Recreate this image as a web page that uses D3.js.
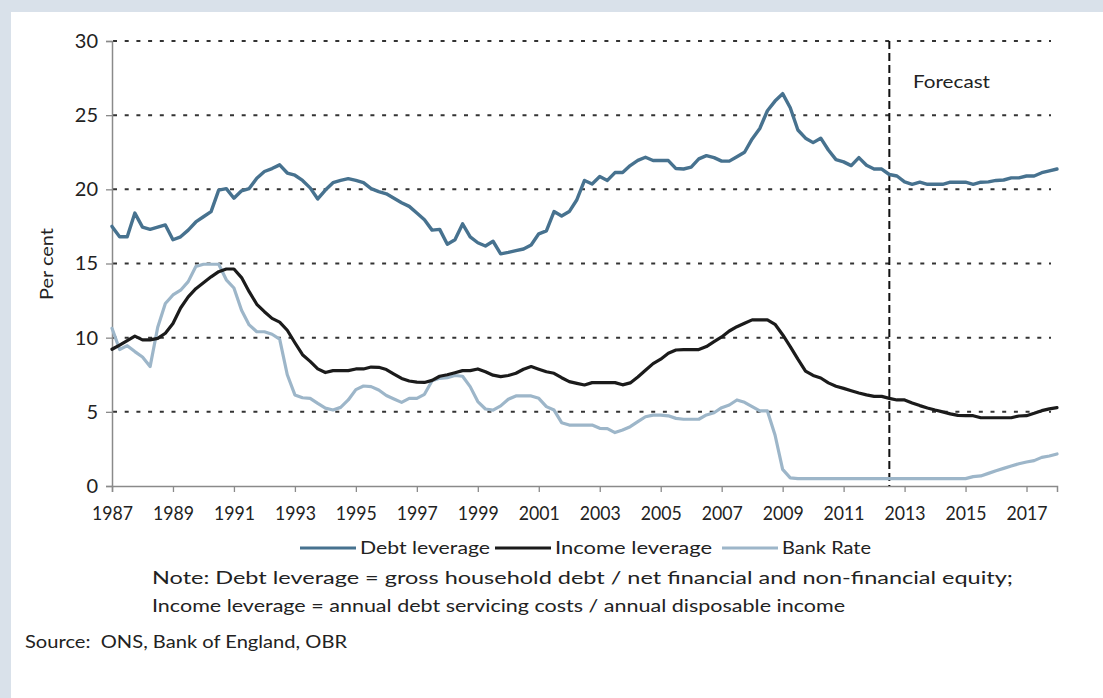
<!DOCTYPE html>
<html>
<head>
<meta charset="utf-8">
<script src="https://cdn.jsdelivr.net/npm/d3@7"></script>
<style>
  html, body { margin: 0; padding: 0; background: #d9e1ea; }
  svg { display: block; font-family: Lato, "Noto Sans", sans-serif; }
  text { white-space: pre; }
</style>
</head>
<body>
<script>
// quarterly data, 1987Q1 .. 2018Q1
var startYear = 1987;

var debtLeverage = [
  17.5, 16.8, 16.8, 18.4,      // 1987
  17.45, 17.3, 17.45, 17.6,    // 1988
  16.6, 16.8, 17.25, 17.8,     // 1989
  18.15, 18.5, 19.95, 20.05,   // 1990
  19.4, 19.9, 20.05, 20.75,    // 1991
  21.2, 21.4, 21.65, 21.1,     // 1992
  20.95, 20.6, 20.1, 19.35,    // 1993
  19.95, 20.45, 20.6, 20.72,   // 1994
  20.6, 20.45, 20.05, 19.85,   // 1995
  19.7, 19.4, 19.1, 18.85,     // 1996
  18.4, 17.95, 17.25, 17.3,    // 1997
  16.3, 16.6, 17.67, 16.8,     // 1998
  16.4, 16.18, 16.5, 15.65,    // 1999
  15.75, 15.87, 15.98, 16.25,  // 2000
  17.0, 17.2, 18.5, 18.2,      // 2001
  18.5, 19.3, 20.6, 20.36,     // 2002
  20.86, 20.6, 21.13, 21.13,   // 2003
  21.6, 21.95, 22.16, 21.94,   // 2004
  21.94, 21.94, 21.4, 21.37,   // 2005
  21.5, 22.05, 22.27, 22.14,   // 2006
  21.9, 21.9, 22.2, 22.5,      // 2007
  23.4, 24.1, 25.3, 25.95,     // 2008
  26.45, 25.5, 24.0, 23.45,    // 2009
  23.15, 23.45, 22.65, 22.0,   // 2010
  21.85, 21.6, 22.14, 21.62,   // 2011
  21.37, 21.37, 21.0, 20.9,    // 2012
  20.5, 20.34, 20.48, 20.34,   // 2013
  20.34, 20.34, 20.48, 20.48,  // 2014
  20.48, 20.34, 20.48, 20.5,   // 2015
  20.6, 20.63, 20.77, 20.77,   // 2016
  20.9, 20.9, 21.12, 21.25,    // 2017
  21.37                        // 2018
];

var incomeLeverage = [
  9.22, 9.5, 9.8, 10.1,
  9.85, 9.85, 9.95, 10.3,
  10.95, 12.0, 12.75, 13.3,
  13.7, 14.1, 14.45, 14.63,
  14.63, 14.05, 13.1, 12.25,
  11.75, 11.3, 11.05, 10.5,
  9.66, 8.85, 8.4, 7.9,
  7.65, 7.78, 7.78, 7.78,
  7.89, 7.89, 8.02, 8.0,
  7.85, 7.55, 7.25, 7.08,
  7.0, 6.98, 7.12, 7.4,
  7.5, 7.64, 7.78, 7.78,
  7.89, 7.7, 7.47, 7.37,
  7.45, 7.6, 7.87, 8.05,
  7.87, 7.7, 7.6, 7.3,
  7.04, 6.92, 6.81, 6.97,
  6.97, 6.97, 6.97, 6.82,
  6.95, 7.35, 7.8, 8.25,
  8.55, 8.95, 9.17, 9.2,
  9.2, 9.2, 9.4, 9.73,
  10.05, 10.45, 10.74, 10.97,
  11.2, 11.2, 11.2, 10.9,
  10.2, 9.4, 8.55, 7.75,
  7.45, 7.28, 6.95, 6.72,
  6.58, 6.42, 6.27, 6.14,
  6.04, 6.04, 5.91, 5.8,
  5.8, 5.6, 5.42, 5.26,
  5.12, 5.0, 4.86, 4.76,
  4.74, 4.74, 4.6, 4.6,
  4.6, 4.6, 4.6, 4.72,
  4.74, 4.9, 5.08, 5.2,
  5.28
];

var bankRate = [
  10.63, 9.2, 9.46, 9.06,
  8.7, 8.05, 10.7, 12.3,
  12.88, 13.2, 13.78, 14.8,
  14.95, 14.95, 14.95, 13.9,
  13.35, 11.85, 10.86, 10.4,
  10.4, 10.23, 9.9, 7.5,
  6.14, 5.95, 5.91, 5.57,
  5.25, 5.12, 5.3, 5.8,
  6.5, 6.74, 6.7, 6.47,
  6.1, 5.87, 5.64, 5.91,
  5.91, 6.18, 7.1, 7.26,
  7.3, 7.45, 7.4, 6.7,
  5.69, 5.19, 5.12, 5.4,
  5.85, 6.07, 6.07, 6.07,
  5.91, 5.35, 5.12, 4.27,
  4.11, 4.11, 4.11, 4.11,
  3.89, 3.87, 3.6, 3.78,
  4.0, 4.34, 4.67, 4.78,
  4.78, 4.73, 4.56, 4.5,
  4.5, 4.5, 4.79, 4.94,
  5.28, 5.46, 5.8, 5.64,
  5.35, 5.06, 5.06, 3.44,
  1.12, 0.55, 0.5, 0.5,
  0.5, 0.5, 0.5, 0.5,
  0.5, 0.5, 0.5, 0.5,
  0.5, 0.5, 0.5, 0.5,
  0.5, 0.5, 0.5, 0.5,
  0.5, 0.5, 0.5, 0.5,
  0.5, 0.63, 0.68, 0.85,
  1.03, 1.19, 1.35, 1.5,
  1.62, 1.71, 1.93, 2.02,
  2.16
];

var yTicks = [0, 5, 10, 15, 20, 25, 30];
var xTicks = [1987, 1989, 1991, 1993, 1995, 1997, 1999, 2001, 2003, 2005, 2007, 2009, 2011, 2013, 2015, 2017];
var forecastStart = 2012.5;

var seriesNames = ["Debt leverage", "Income leverage", "Bank Rate"];
var seriesColors = ["#47728f", "#1b1b1b", "#9db6c9"];
var seriesData = [debtLeverage, incomeLeverage, bankRate];

var W = 1103, H = 698;
var margin = {top: 41, left: 112, right: 46, bottom: 212};

var svg = d3.select("body").append("svg")
    .attr("width", W)
    .attr("height", H);

// outer frame: light blue band top/left, white panel
svg.append("rect").attr("width", W).attr("height", H).attr("fill", "#d9e1ea");
svg.append("rect").attr("x", 11).attr("y", 12).attr("width", W - 11).attr("height", H - 12).attr("fill", "#fff");

var x_scale = d3.scaleLinear().domain([1987, 2018]).range([margin.left, W - margin.right]);
var y_scale = d3.scaleLinear().domain([0, 30]).range([H - margin.bottom, margin.top]);

// gridlines
svg.append("g").selectAll("line")
    .data(yTicks.filter(function(d) { return d > 0; }))
  .enter().append("line")
    .attr("x1", x_scale(1987) + 1)
    .attr("x2", 1051)
    .attr("y1", function(d) { return y_scale(d); })
    .attr("y2", function(d) { return y_scale(d); })
    .attr("stroke", "#333")
    .attr("stroke-width", 2)
    .attr("stroke-dasharray", "4,7.7");

// axes
var yAxis = svg.append("g")
    .attr("transform", "translate(" + margin.left + ",0)")
    .call(d3.axisLeft(y_scale).tickValues(yTicks).tickSize(6).tickPadding(8));

var xAxis = svg.append("g")
    .attr("transform", "translate(0," + (H - margin.bottom) + ")")
    .call(d3.axisBottom(x_scale).tickValues(xTicks).tickFormat(d3.format("d")).tickSizeOuter(0).tickSize(6).tickPadding(14));

[yAxis, xAxis].forEach(function(ax) {
  ax.select(".domain").attr("stroke", "#8a8a8a").attr("stroke-width", 1.5);
  ax.selectAll(".tick line").attr("stroke", "#8a8a8a").attr("stroke-width", 1.3);
  ax.selectAll(".tick text")
    .attr("fill", "#222")
    .style("font-size", "20px")
    .style("font-family", "Lato, sans-serif");
});
xAxis.selectAll(".tick text").attr("textLength", 41).attr("lengthAdjust", "spacingAndGlyphs");

// forecast divider
svg.append("line")
    .attr("x1", x_scale(forecastStart)).attr("x2", x_scale(forecastStart))
    .attr("y1", y_scale(30)).attr("y2", y_scale(0))
    .attr("stroke", "#111")
    .attr("stroke-width", 2)
    .attr("stroke-dasharray", "8,4");

// small helper for stretched labels (the source font is wide)
function label(x, y, str, size, len) {
  return svg.append("text")
      .attr("x", x).attr("y", y)
      .attr("fill", "#222")
      .attr("textLength", len)
      .attr("lengthAdjust", "spacingAndGlyphs")
      .style("font-size", size + "px")
      .text(str);
}

label(913, 88, "Forecast", 18, 77);

// series lines
var line = d3.line()
    .x(function(d, i) { return x_scale(startYear + i / 4); })
    .y(function(d) { return y_scale(d); });

// draw bank rate first, then income, then debt on top
[2, 1, 0].forEach(function(k) {
  svg.append("path")
      .datum(seriesData[k])
      .attr("fill", "none")
      .attr("stroke", seriesColors[k])
      .attr("stroke-width", k === 0 ? 3.4 : 3.2)
      .attr("stroke-linejoin", "round")
      .attr("stroke-linecap", "round")
      .attr("d", line);
});

// y axis title
svg.append("text")
    .attr("transform", "translate(53,264) rotate(-90)")
    .attr("text-anchor", "middle")
    .attr("fill", "#222")
    .attr("textLength", 72)
    .attr("lengthAdjust", "spacingAndGlyphs")
    .style("font-size", "17px")
    .text("Per cent");

// legend
var legendX = [300, 495, 722];
var legendLen = [130, 157, 89];
seriesNames.forEach(function(name, k) {
  svg.append("line")
      .attr("x1", legendX[k]).attr("x2", legendX[k] + 56)
      .attr("y1", 548).attr("y2", 548)
      .attr("stroke", seriesColors[k])
      .attr("stroke-width", 3.2);
  label(legendX[k] + 60, 554, name, 18, legendLen[k]);
});

// notes and source
label(152, 584, "Note: Debt leverage = gross household debt / net financial and non-financial equity;", 18, 861);
label(152, 612, "Income leverage = annual debt servicing costs / annual disposable income", 18, 693);
label(25, 648, "Source:  ONS, Bank of England, OBR", 18, 322);
</script>
</body>
</html>
